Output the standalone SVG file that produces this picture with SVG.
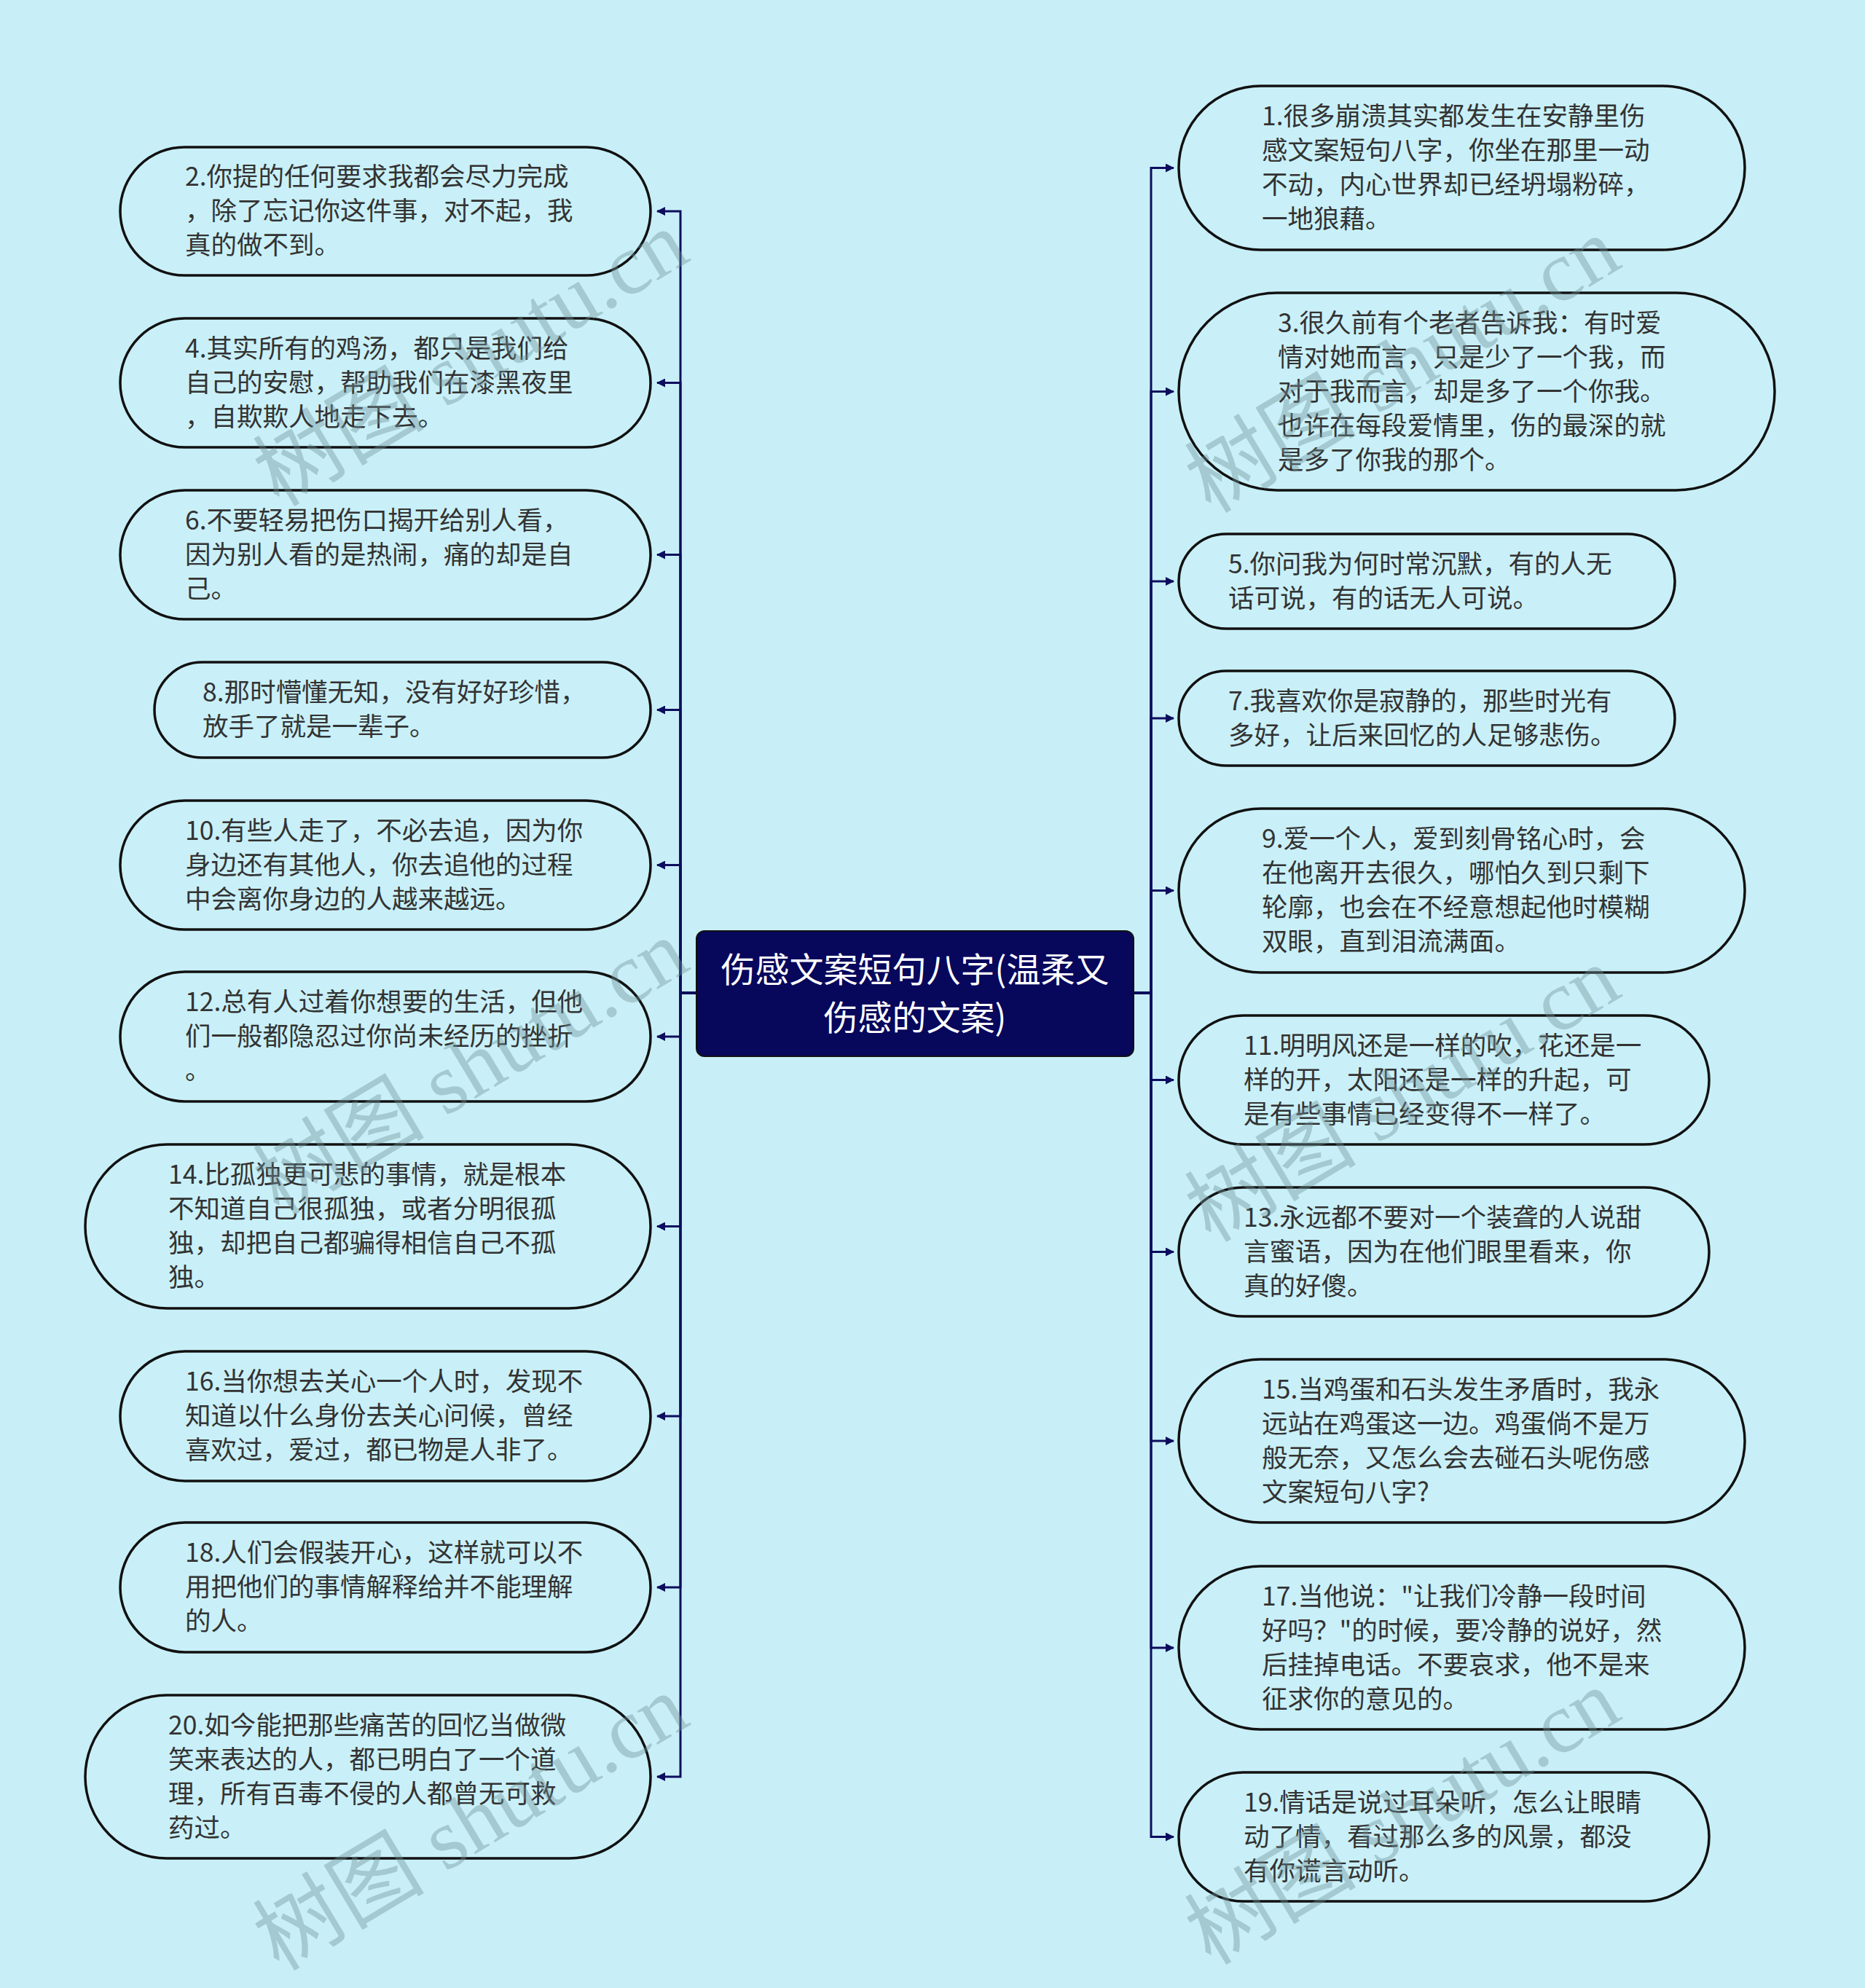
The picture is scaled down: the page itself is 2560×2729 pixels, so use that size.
<svg xmlns="http://www.w3.org/2000/svg" width="2560" height="2729" viewBox="0 0 2560 2729">
<defs>
<style>
.bg{fill:#C8EFF7}
.node{fill:#C9F0F8;stroke:#111111;stroke-width:3.5}
.t{font-family:"Noto Sans CJK SC","Noto Sans",sans-serif;font-size:35.5px;fill:#333333}
.ct{font-family:"Noto Sans CJK SC","Noto Sans",sans-serif;font-size:47px;fill:#FFFFFF;text-anchor:middle}
.con{fill:none;stroke:#0D0D5E;stroke-width:3}
.wm{font-family:"Liberation Serif","Noto Sans CJK SC",serif;font-size:118px;fill:#6F9198;opacity:0.4}
</style>
<marker id="ah" viewBox="0 0 12 12" refX="11" refY="6" markerWidth="12" markerHeight="12" markerUnits="userSpaceOnUse" orient="auto">
<path d="M0,0 L12,6 L0,12 Z" fill="#0D0D5E"/>
</marker>
</defs>
<rect class="bg" x="0" y="0" width="2560" height="2729"/>

<g id="connectors">
<path class="con" marker-end="url(#ah)" d="M956,1363 H934 V290 H902"/>
<path class="con" marker-end="url(#ah)" d="M956,1363 H934 V525.5 H902"/>
<path class="con" marker-end="url(#ah)" d="M956,1363 H934 V761.5 H902"/>
<path class="con" marker-end="url(#ah)" d="M956,1363 H934 V974.5 H902"/>
<path class="con" marker-end="url(#ah)" d="M956,1363 H934 V1187.5 H902"/>
<path class="con" marker-end="url(#ah)" d="M956,1363 H934 V1423 H902"/>
<path class="con" marker-end="url(#ah)" d="M956,1363 H934 V1683.5 H902"/>
<path class="con" marker-end="url(#ah)" d="M956,1363 H934 V1944 H902"/>
<path class="con" marker-end="url(#ah)" d="M956,1363 H934 V2179 H902"/>
<path class="con" marker-end="url(#ah)" d="M956,1363 H934 V2439 H902"/>
<path class="con" marker-end="url(#ah)" d="M1556,1363 H1580 V230.5 H1611"/>
<path class="con" marker-end="url(#ah)" d="M1556,1363 H1580 V537.5 H1611"/>
<path class="con" marker-end="url(#ah)" d="M1556,1363 H1580 V798 H1611"/>
<path class="con" marker-end="url(#ah)" d="M1556,1363 H1580 V986 H1611"/>
<path class="con" marker-end="url(#ah)" d="M1556,1363 H1580 V1222.5 H1611"/>
<path class="con" marker-end="url(#ah)" d="M1556,1363 H1580 V1482.5 H1611"/>
<path class="con" marker-end="url(#ah)" d="M1556,1363 H1580 V1718.5 H1611"/>
<path class="con" marker-end="url(#ah)" d="M1556,1363 H1580 V1978 H1611"/>
<path class="con" marker-end="url(#ah)" d="M1556,1363 H1580 V2262 H1611"/>
<path class="con" marker-end="url(#ah)" d="M1556,1363 H1580 V2521.5 H1611"/>
</g>

<g id="center">
<rect x="956" y="1278" width="600" height="172" rx="11" fill="#07075C" stroke="#111111" stroke-width="2"/>
<text class="ct" x="1256" y="1348">伤感文案短句八字(温柔又</text>
<text class="ct" x="1256" y="1414">伤感的文案)</text>
</g>

<g id="n2"><rect class="node" x="165" y="202" width="728" height="176" rx="88"/>
<text class="t" x="254" y="255">2.你提的任何要求我都会尽力完成</text>
<text class="t" x="254" y="302">，除了忘记你这件事，对不起，我</text>
<text class="t" x="254" y="349">真的做不到。</text></g>

<g id="n4"><rect class="node" x="165" y="437" width="728" height="177" rx="88.5"/>
<text class="t" x="254" y="490.5">4.其实所有的鸡汤，都只是我们给</text>
<text class="t" x="254" y="537.5">自己的安慰，帮助我们在漆黑夜里</text>
<text class="t" x="254" y="584.5">，自欺欺人地走下去。</text></g>

<g id="n6"><rect class="node" x="165" y="673" width="728" height="177" rx="88.5"/>
<text class="t" x="254" y="726.5">6.不要轻易把伤口揭开给别人看，</text>
<text class="t" x="254" y="773.5">因为别人看的是热闹，痛的却是自</text>
<text class="t" x="254" y="820.5">己。</text></g>

<g id="n8"><rect class="node" x="212" y="909" width="681" height="131" rx="65.5"/>
<text class="t" x="278" y="963">8.那时懵懂无知，没有好好珍惜，</text>
<text class="t" x="278" y="1010">放手了就是一辈子。</text></g>

<g id="n10"><rect class="node" x="165" y="1099" width="728" height="177" rx="88.5"/>
<text class="t" x="254" y="1152.5">10.有些人走了，不必去追，因为你</text>
<text class="t" x="254" y="1199.5">身边还有其他人，你去追他的过程</text>
<text class="t" x="254" y="1246.5">中会离你身边的人越来越远。</text></g>

<g id="n12"><rect class="node" x="165" y="1334" width="728" height="178" rx="89"/>
<text class="t" x="254" y="1388">12.总有人过着你想要的生活，但他</text>
<text class="t" x="254" y="1435">们一般都隐忍过你尚未经历的挫折</text>
<text class="t" x="254" y="1482">。</text></g>

<g id="n14"><rect class="node" x="117" y="1571" width="776" height="225" rx="112.5"/>
<text class="t" x="231" y="1625">14.比孤独更可悲的事情，就是根本</text>
<text class="t" x="231" y="1672">不知道自己很孤独，或者分明很孤</text>
<text class="t" x="231" y="1719">独，却把自己都骗得相信自己不孤</text>
<text class="t" x="231" y="1766">独。</text></g>

<g id="n16"><rect class="node" x="165" y="1855" width="728" height="178" rx="89"/>
<text class="t" x="254" y="1909">16.当你想去关心一个人时，发现不</text>
<text class="t" x="254" y="1956">知道以什么身份去关心问候，曾经</text>
<text class="t" x="254" y="2003">喜欢过，爱过，都已物是人非了。</text></g>

<g id="n18"><rect class="node" x="165" y="2090" width="728" height="178" rx="89"/>
<text class="t" x="254" y="2144">18.人们会假装开心，这样就可以不</text>
<text class="t" x="254" y="2191">用把他们的事情解释给并不能理解</text>
<text class="t" x="254" y="2238">的人。</text></g>

<g id="n20"><rect class="node" x="117" y="2327" width="776" height="224" rx="112"/>
<text class="t" x="231" y="2380.5">20.如今能把那些痛苦的回忆当做微</text>
<text class="t" x="231" y="2427.5">笑来表达的人，都已明白了一个道</text>
<text class="t" x="231" y="2474.5">理，所有百毒不侵的人都曾无可救</text>
<text class="t" x="231" y="2521.5">药过。</text></g>

<g id="n1"><rect class="node" x="1618" y="118" width="777" height="225" rx="112.5"/>
<text class="t" x="1732" y="172">1.很多崩溃其实都发生在安静里伤</text>
<text class="t" x="1732" y="219">感文案短句八字，你坐在那里一动</text>
<text class="t" x="1732" y="266">不动，内心世界却已经坍塌粉碎，</text>
<text class="t" x="1732" y="313">一地狼藉。</text></g>

<g id="n3"><rect class="node" x="1618" y="402" width="818" height="271" rx="135.5"/>
<text class="t" x="1754" y="455.5">3.很久前有个老者告诉我：有时爱</text>
<text class="t" x="1754" y="502.5">情对她而言，只是少了一个我，而</text>
<text class="t" x="1754" y="549.5">对于我而言，却是多了一个你我。</text>
<text class="t" x="1754" y="596.5">也许在每段爱情里，伤的最深的就</text>
<text class="t" x="1754" y="643.5">是多了你我的那个。</text></g>

<g id="n5"><rect class="node" x="1618" y="733" width="681" height="130" rx="65"/>
<text class="t" x="1686" y="786.5">5.你问我为何时常沉默，有的人无</text>
<text class="t" x="1686" y="833.5">话可说，有的话无人可说。</text></g>

<g id="n7"><rect class="node" x="1618" y="921" width="681" height="130" rx="65"/>
<text class="t" x="1686" y="974.5">7.我喜欢你是寂静的，那些时光有</text>
<text class="t" x="1686" y="1021.5">多好，让后来回忆的人足够悲伤。</text></g>

<g id="n9"><rect class="node" x="1618" y="1110" width="777" height="225" rx="112.5"/>
<text class="t" x="1732" y="1164">9.爱一个人，爱到刻骨铭心时，会</text>
<text class="t" x="1732" y="1211">在他离开去很久，哪怕久到只剩下</text>
<text class="t" x="1732" y="1258">轮廓，也会在不经意想起他时模糊</text>
<text class="t" x="1732" y="1305">双眼，直到泪流满面。</text></g>

<g id="n11"><rect class="node" x="1618" y="1394" width="728" height="177" rx="88.5"/>
<text class="t" x="1707" y="1447.5">11.明明风还是一样的吹，花还是一</text>
<text class="t" x="1707" y="1494.5">样的开，太阳还是一样的升起，可</text>
<text class="t" x="1707" y="1541.5">是有些事情已经变得不一样了。</text></g>

<g id="n13"><rect class="node" x="1618" y="1630" width="728" height="177" rx="88.5"/>
<text class="t" x="1707" y="1683.5">13.永远都不要对一个装聋的人说甜</text>
<text class="t" x="1707" y="1730.5">言蜜语，因为在他们眼里看来，你</text>
<text class="t" x="1707" y="1777.5">真的好傻。</text></g>

<g id="n15"><rect class="node" x="1618" y="1866" width="777" height="224" rx="112"/>
<text class="t" x="1732" y="1919.5">15.当鸡蛋和石头发生矛盾时，我永</text>
<text class="t" x="1732" y="1966.5">远站在鸡蛋这一边。鸡蛋倘不是万</text>
<text class="t" x="1732" y="2013.5">般无奈，又怎么会去碰石头呢伤感</text>
<text class="t" x="1732" y="2060.5">文案短句八字?</text></g>

<g id="n17"><rect class="node" x="1618" y="2150" width="777" height="224" rx="112"/>
<text class="t" x="1732" y="2203.5">17.当他说："让我们冷静一段时间</text>
<text class="t" x="1732" y="2250.5">好吗？"的时候，要冷静的说好，然</text>
<text class="t" x="1732" y="2297.5">后挂掉电话。不要哀求，他不是来</text>
<text class="t" x="1732" y="2344.5">征求你的意见的。</text></g>

<g id="n19"><rect class="node" x="1618" y="2433" width="728" height="177" rx="88.5"/>
<text class="t" x="1707" y="2486.5">19.情话是说过耳朵听，怎么让眼睛</text>
<text class="t" x="1707" y="2533.5">动了情，看过那么多的风景，都没</text>
<text class="t" x="1707" y="2580.5">有你谎言动听。</text></g>

<g id="watermarks">
<text class="wm" transform="translate(383,697) rotate(-31)">树图 shutu.cn</text>
<text class="wm" transform="translate(1662,706) rotate(-31)">树图 shutu.cn</text>
<text class="wm" transform="translate(383,1670) rotate(-31)">树图 shutu.cn</text>
<text class="wm" transform="translate(1662,1707) rotate(-31)">树图 shutu.cn</text>
<text class="wm" transform="translate(383,2707) rotate(-31)">树图 shutu.cn</text>
<text class="wm" transform="translate(1662,2699) rotate(-31)">树图 shutu.cn</text>
</g>
</svg>
